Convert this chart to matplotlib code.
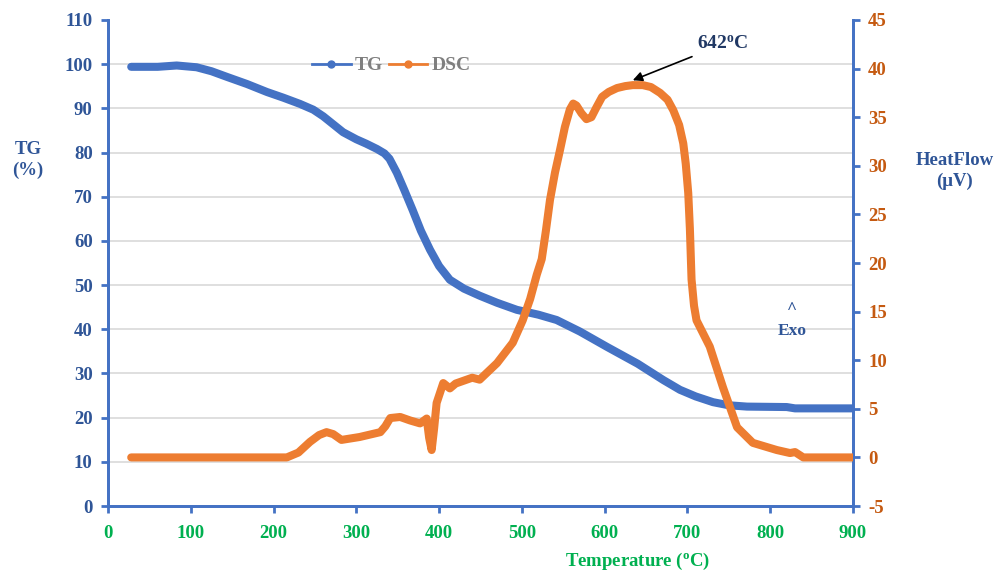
"""TG / DSC curves of the sample"""

import matplotlib.pyplot as plt

# pylint: disable=C0103

# TG curve (left axis, %)
tg_temp = [28, 60, 83, 107, 125, 144, 168, 192, 212, 232, 248, 260, 272, 284, 300, 312,
           325, 334, 340, 349, 358, 368, 378, 389, 400, 413, 430, 449, 470, 494, 520,
           542, 570, 603, 640, 671, 691, 710, 731, 750, 772, 820, 830, 900]
tg_values = [99.4, 99.4, 99.7, 99.3, 98.4, 97.1, 95.5, 93.7, 92.4, 91.0, 89.7, 88.2,
             86.4, 84.6, 83.0, 82.0, 80.8, 79.8, 78.6, 75.4, 71.5, 67.0, 62.3, 58.0,
             54.3, 51.2, 49.2, 47.6, 46.0, 44.4, 43.3, 42.1, 39.5, 36.0, 32.2, 28.5,
             26.3, 24.8, 23.5, 22.8, 22.5, 22.4, 22.1, 22.1]

# DSC curve (right axis, uV)
dsc_temp = [28, 216, 230, 244, 255, 264, 272, 282, 304, 329, 335, 341, 353, 365, 377,
            385, 388, 391, 394, 397, 405, 413, 420, 440, 449, 470, 489, 501, 510, 518,
            524, 529, 534, 540, 546, 552, 558, 562, 566, 572, 578, 584, 590, 597, 605,
            615, 625, 634, 646, 656, 667, 676, 683, 690, 695, 698, 701, 703, 705, 708,
            711, 727, 743, 760, 779, 808, 824, 830, 840, 900]
dsc_values = [0, 0, 0.5, 1.6, 2.3, 2.6, 2.4, 1.8, 2.1, 2.6, 3.2, 4.05, 4.16, 3.8, 3.5,
              4.0, 2.0, 0.76, 3.0, 5.6, 7.65, 7.1, 7.6, 8.2, 8.0, 9.7, 11.8, 14.1, 16.3,
              18.8, 20.4, 23.3, 26.5, 29.3, 31.6, 34.0, 35.8, 36.4, 36.2, 35.4, 34.8,
              35.0, 36.0, 37.1, 37.6, 38.0, 38.2, 38.3, 38.3, 38.1, 37.5, 36.8, 35.7,
              34.2, 32.3, 30.2, 27.2, 23.5, 18.3, 15.6, 14.1, 11.4, 7.2, 3.1, 1.5, 0.76,
              0.45, 0.55, 0, 0]

x_ticks = list(range(0, 1000, 100))
tg_ticks = list(range(0, 120, 10))
dsc_ticks = list(range(-5, 50, 5))

peak_temp = 642
peak_value = 38.4

BLUE = '#4472C4'
ORANGE = '#ED7D31'
DARK_BLUE = '#2F5597'
TICK_ORANGE = '#C55A11'
GREEN = '#00B050'

plt.rcParams['font.family'] = ['Liberation Serif', 'DejaVu Serif']
plt.rcParams['font.weight'] = 'bold'
plt.rcParams['axes.unicode_minus'] = False

fig = plt.figure(figsize=(10.03, 5.71), dpi=100)
ax = fig.add_axes([0.1077, 0.1138, 0.7427, 0.8512])
ax2 = ax.twinx()

line_tg, = ax.plot(tg_temp, tg_values, color=BLUE, lw=5.8, solid_capstyle='round',
                   solid_joinstyle='round', zorder=3)
line_dsc, = ax2.plot(dsc_temp, dsc_values, color=ORANGE, lw=5.8, solid_capstyle='round',
                     solid_joinstyle='round', zorder=3)

ax.set_xlim(0, 900)
ax.set_ylim(0, 110)
ax2.set_ylim(-5, 45)
ax.set_xticks(x_ticks)
ax.set_yticks(tg_ticks)
ax2.set_yticks(dsc_ticks)

# grid only from left axis
ax.yaxis.grid(True, color='#D9D9D9', lw=1.2)
ax.set_axisbelow(True)
ax.get_ygridlines()[0].set_visible(False)
ax.get_ygridlines()[-1].set_visible(False)

for a in (ax, ax2):
    a.spines['top'].set_visible(False)
    for side in ('left', 'right', 'bottom'):
        a.spines[side].set_color(BLUE)
        a.spines[side].set_linewidth(2)
    a.tick_params(color=BLUE, width=2, length=5, labelsize=13.5)

ax.tick_params(axis='y', labelcolor=DARK_BLUE, pad=6)
ax.tick_params(axis='x', labelcolor=GREEN, pad=9)
ax2.tick_params(axis='y', labelcolor=TICK_ORANGE, pad=6)

# axis titles
fig.text(0.028, 0.72, 'TG\n(%)', color=DARK_BLUE, fontsize=13.5, ha='center', va='center',
         fontweight='bold', linespacing=1.3)
fig.text(0.952, 0.70, 'HeatFlow\n(\u03bcV)', color=DARK_BLUE, fontsize=13.5, ha='center',
         va='center', fontweight='bold', linespacing=1.3)
fig.text(0.636, 0.016, 'Temperature ($\\mathregular{^oC}$)', color=GREEN, fontsize=13.5,
         ha='center', va='center', fontweight='bold')
fig.text(0.79, 0.44, '^\nExo', color=DARK_BLUE, fontsize=12.5, ha='center', va='center',
         fontweight='bold', linespacing=1.5)

# peak annotation
ax2.annotate('642$\\mathregular{^o}$C', xy=(peak_temp - 8, peak_value + 0.4),
             xytext=(712, 42.5), color='#203864', fontsize=14, fontweight='bold',
             va='center', ha='left',
             arrowprops=dict(arrowstyle='-|>', color='black', lw=1.2, shrinkA=2, shrinkB=0,
                             mutation_scale=14))

# legend with marker in the middle of the line
h_tg, = ax.plot([], [], color=BLUE, lw=2, marker='o', ms=5)
h_dsc, = ax.plot([], [], color=ORANGE, lw=2, marker='o', ms=5)
fig.legend([h_tg, h_dsc], ['TG', 'DSC'], loc='center', bbox_to_anchor=(0.39, 0.885),
           ncol=2, frameon=False, fontsize=14, handlelength=2.0, handletextpad=0.2,
           columnspacing=0.3, labelcolor='#7F7F7F')

fig.savefig('out.png', dpi=100)
